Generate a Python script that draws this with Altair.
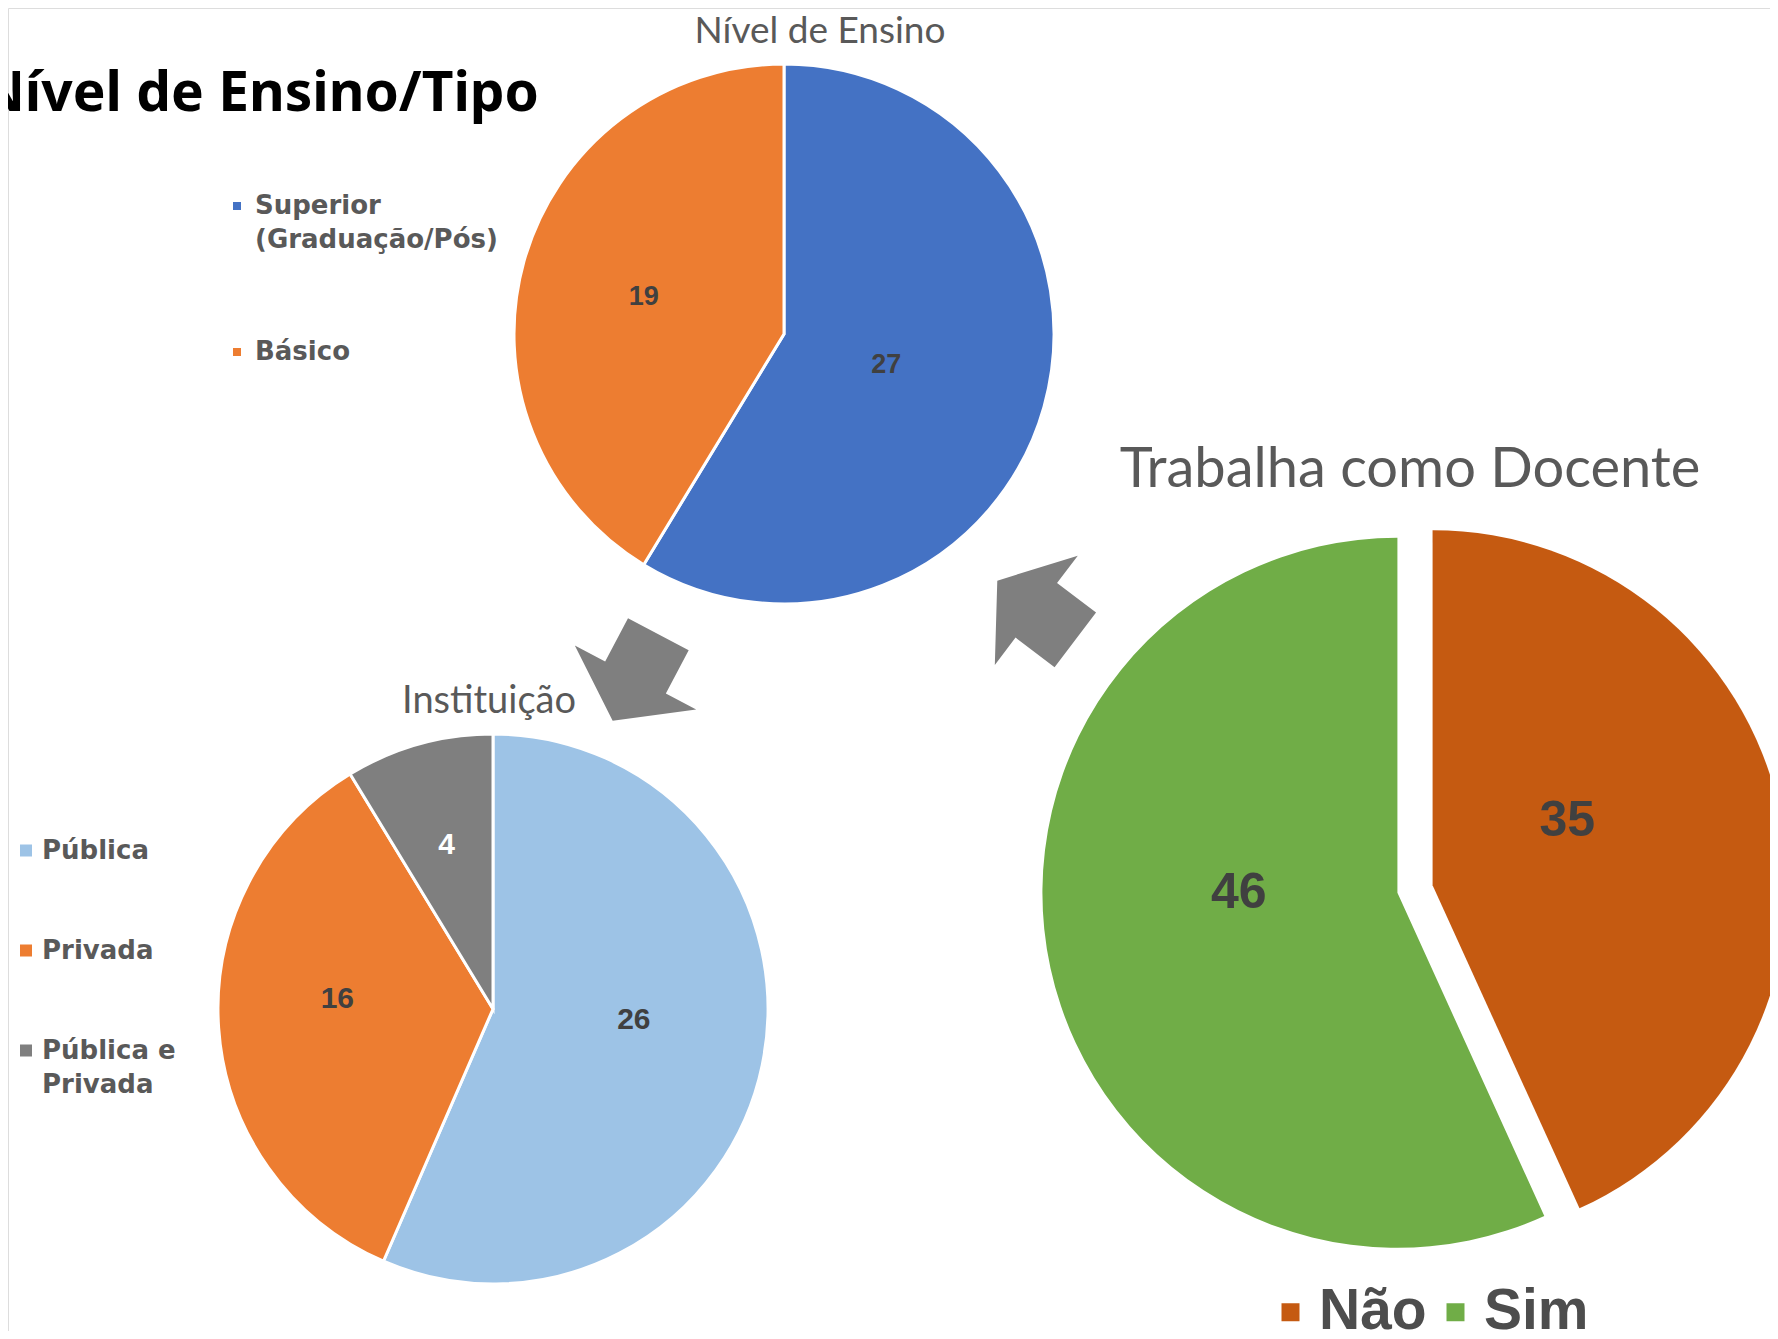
import math
import altair as alt
import pandas as pd

# ---------------- data ----------------
nivel_cats = ["Superior (Graduação/Pós)", "Básico"]
nivel_vals = [27, 19]
nivel_colors = ["#4472C4", "#ED7D31"]

inst_cats = ["Pública", "Privada", "Pública e Privada"]
inst_vals = [26, 16, 4]
inst_colors = ["#9DC3E6", "#ED7D31", "#7F7F7F"]

doc_cats = ["Não", "Sim"]
doc_vals = [35, 46]
doc_colors = ["#C55A11", "#70AD47"]

legend_lines = {
    "Superior (Graduação/Pós)": ["Superior", "(Graduação/Pós)"],
    "Pública e Privada": ["Pública e", "Privada"],
}

main_title = "Nível de Ensino/Tipo"
title_nivel = "Nível de Ensino"
title_inst = "Instituição"
title_doc = "Trabalha como Docente"

# ---------------- layout / style ----------------
W, H = 1762, 1323
P1X, P1Y, P1R = 776, 326, 270
P2X, P2Y, P2R = 485, 1001, 275
P3X, P3Y, P3R, EXPL = 1407, 881, 355, 18
LABEL_FONT = "Liberation Sans"
LEGEND_FONT = "DejaVu Sans"
TITLE_FONT = "Lato"
GRAY_TXT = "#595959"
DARK_TXT = "#404040"


def label_expr():
    parts = []
    for k, lines in legend_lines.items():
        arr = "[" + ", ".join("'" + l + "'" for l in lines) + "]"
        parts.append(f"datum.label == '{k}' ? {arr} : ")
    return "".join(parts) + "datum.label"


def frame(cats, vals):
    return pd.DataFrame({"cat": cats, "value": vals, "k": list(range(len(cats)))})


# ---------------- pie 1: Nível de Ensino ----------------
base1 = alt.Chart(frame(nivel_cats, nivel_vals)).encode(
    theta=alt.Theta("value:Q", stack=True),
    order=alt.Order("k:Q"),
    x=alt.value(P1X),
    y=alt.value(P1Y),
)
arc1 = base1.mark_arc(radius=P1R, stroke="white", strokeWidth=3).encode(
    color=alt.Color(
        "cat:N",
        scale=alt.Scale(domain=nivel_cats, range=nivel_colors),
        legend=alt.Legend(
            title=None, orient="none", legendX=216, legendY=185,
            symbolType="square", symbolSize=64, symbolStrokeWidth=0,
            labelFont=LEGEND_FONT, labelFontSize=26, labelFontWeight="bold",
            labelColor=GRAY_TXT, labelOffset=5,
            rowPadding=86, labelLimit=500, padding=0, labelExpr=label_expr(),
        ),
    )
)
text1 = base1.mark_text(
    radius=126, dx=-19, dy=-3, font=LABEL_FONT, fontSize=27, fontWeight="bold",
    color=DARK_TXT,
).encode(text="value:Q", detail="cat:N")
pie1 = alt.layer(arc1, text1)

# ---------------- pie 2: Instituição ----------------
base2 = alt.Chart(frame(inst_cats, inst_vals)).encode(
    theta=alt.Theta("value:Q", stack=True),
    order=alt.Order("k:Q"),
    x=alt.value(P2X),
    y=alt.value(P2Y),
)
arc2 = base2.mark_arc(radius=P2R, stroke="white", strokeWidth=3).encode(
    color=alt.Color(
        "cat:N",
        scale=alt.Scale(domain=inst_cats, range=inst_colors),
        legend=alt.Legend(
            title=None, orient="none", legendX=5, legendY=829.5,
            symbolType="square", symbolSize=144, symbolStrokeWidth=0,
            labelFont=LEGEND_FONT, labelFontSize=26, labelFontWeight="bold",
            labelColor=GRAY_TXT, labelOffset=3,
            rowPadding=74, labelLimit=500, padding=0, labelExpr=label_expr(),
        ),
    )
)
text2 = base2.mark_text(
    radius=150, dx=-6, dy=-20, font=LABEL_FONT, fontSize=30, fontWeight="bold"
).encode(
    text="value:Q",
    detail="cat:N",
    color=alt.condition(
        alt.datum.cat == inst_cats[-1], alt.value("white"), alt.value(DARK_TXT)
    ),
)
pie2 = alt.layer(arc2, text2)

# ---------------- pie 3: Trabalha como Docente (exploded) ----------------
TWO_PI = 2 * math.pi
base3 = (
    alt.Chart(frame(doc_cats, doc_vals))
    .transform_window(cum="sum(value)", sort=[alt.SortField("k")])
    .transform_joinaggregate(total="sum(value)")
    .transform_calculate(
        t0="(datum.cum - datum.value) / datum.total",
        t1="datum.cum / datum.total",
    )
    .transform_calculate(tm="(datum.t0 + datum.t1) / 2")
    .transform_calculate(
        ex=f"{P3X} + {EXPL} * sin(2 * PI * datum.tm)",
        ey=f"{P3Y} - {EXPL} * cos(2 * PI * datum.tm)",
    )
    .encode(
        x=alt.X("ex:Q", scale=None, axis=None),
        y=alt.Y("ey:Q", scale=None, axis=None),
    )
)
theta_scale = alt.Scale(domain=[0, 1], range=[0, TWO_PI])
arc3 = base3.mark_arc(radius=P3R).encode(
    theta=alt.Theta("t0:Q", scale=theta_scale, stack=False),
    theta2="t1:Q",
    color=alt.Color(
        "cat:N",
        scale=alt.Scale(domain=doc_cats, range=doc_colors),
        legend=alt.Legend(
            title=None, orient="none", legendX=1254, legendY=1275.5,
            direction="horizontal", columns=2,
            symbolType="square", symbolSize=324, symbolStrokeWidth=0,
            labelFont=LABEL_FONT, labelFontSize=57, labelFontWeight="bold",
            labelColor="#4d4d4d", labelOffset=0, columnPadding=0,
            labelLimit=500, padding=0,
        ),
    ),
)
text3 = base3.mark_text(
    radius=150, dx=-12, dy=-32, font=LABEL_FONT, fontSize=50, fontWeight="bold",
    color=DARK_TXT,
).encode(
    theta=alt.Theta("tm:Q", scale=theta_scale, stack=False),
    text="value:Q",
)
pie3 = alt.layer(arc3, text3)

# ---------------- titles ----------------
def title(txt, x, y, font, size, color, weight="normal", align="center"):
    return alt.Chart(pd.DataFrame({"t": [txt]})).mark_text(
        align=align, baseline="alphabetic", font=font, fontSize=size,
        fontWeight=weight, color=color,
    ).encode(x=alt.value(x), y=alt.value(y), text="t:N")


t_main = title(main_title, 531, 103, "Noto Sans", 55, "black", "bold", "right")
t_nivel = title(title_nivel, 812, 35, TITLE_FONT, 37, GRAY_TXT)
t_inst = title(title_inst, 481, 705, TITLE_FONT, 38, GRAY_TXT)
t_doc = title(title_doc, 1402, 479, TITLE_FONT, 56, GRAY_TXT)

# ---------------- block arrows ----------------
ARROW_PATH = "M -0.714 -0.5 L 0 -0.5 L 0 -1 L 0.714 0 L 0 1 L 0 0.5 L -0.714 0.5 Z"


def arrow(x, y, angle):
    return alt.Chart(pd.DataFrame({"a": [0]})).mark_point(
        shape=ARROW_PATH, size=18824, angle=angle, filled=True,
        fill="#7F7F7F", strokeWidth=0, opacity=1,
    ).encode(x=alt.value(x), y=alt.value(y))


a1 = arrow(627.5, 669.5, 117.8)
a2 = arrow(1028.3, 602.3, 217.2)

chart = (
    alt.layer(pie1, pie2, pie3, t_main, t_nivel, t_inst, t_doc, a1, a2)
    .resolve_scale(theta="independent", color="independent")
    .properties(
        width=W, height=H, padding=0,
        autosize=alt.AutoSizeParams(type="none"),
        background="white",
    )
    .configure_view(stroke=None)
    .configure(style={"guide-label": {"lineHeight": 34}})
)

chart.save("out.html", embed_options={"renderer": "svg", "actions": False})
